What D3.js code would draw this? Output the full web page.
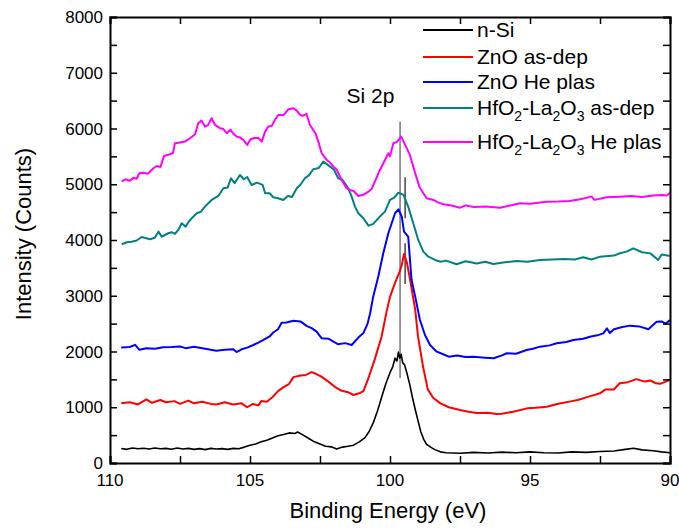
<!DOCTYPE html>
<html>
<head>
<meta charset="utf-8">
<script src="https://cdn.jsdelivr.net/npm/d3@7"></script>
<style>
  body { margin: 0; background: #fff; }
  text { font-family: Arial, "Liberation Sans", sans-serif; }
</style>
</head>
<body>
<script>
// XPS Si 2p spectra: [binding energy (eV), counts]
const nSi = [[109.6,260],[109.4,245],[109.2,270],[109.0,255],[108.8,265],[108.6,250],[108.4,270],[108.2,255],[108.0,262],[107.8,248],[107.6,268],[107.4,252],[107.2,262],[107.0,245],[106.8,258],[106.6,240],[106.4,262],[106.2,250],[106.0,258],[105.8,245],[105.6,262],[105.4,255],[105.2,285],[105.0,320],[104.8,340],[104.6,380],[104.4,410],[104.2,450],[104.0,490],[103.8,510],[103.6,540],[103.4,530],[103.3,555],[103.1,500],[102.9,440],[102.7,380],[102.5,340],[102.3,300],[102.1,290],[101.9,250],[101.7,285],[101.5,300],[101.3,320],[101.1,380],[100.9,450],[100.75,560],[100.6,720],[100.45,930],[100.3,1180],[100.15,1420],[100.0,1620],[99.9,1730],[99.82,1880],[99.75,1830],[99.7,1990],[99.65,1880],[99.6,1950],[99.55,1800],[99.48,1760],[99.4,1620],[99.3,1420],[99.2,1180],[99.1,960],[99.0,760],[98.9,560],[98.8,430],[98.7,340],[98.55,285],[98.4,240],[98.2,200],[98.0,185],[97.5,175],[97.0,190],[96.5,180],[96.0,195],[95.5,185],[95.0,200],[94.5,185],[94.0,180],[93.5,200],[93.0,190],[92.5,205],[92.0,215],[91.6,245],[91.3,265],[91.0,235],[90.6,220],[90.3,200],[90.0,185]];

const znoAsDep = [[109.6,1070],[109.3,1090],[109.0,1050],[108.7,1140],[108.5,1080],[108.2,1130],[108.0,1090],[107.7,1110],[107.5,1060],[107.2,1120],[107.0,1070],[106.7,1100],[106.4,1060],[106.2,1050],[105.9,1090],[105.6,1050],[105.3,1070],[105.1,1000],[104.9,1060],[104.7,1030],[104.6,1110],[104.4,1100],[104.2,1180],[104.0,1290],[103.8,1360],[103.6,1420],[103.45,1540],[103.2,1570],[103.0,1580],[102.8,1630],[102.65,1600],[102.45,1550],[102.2,1460],[101.95,1360],[101.75,1300],[101.5,1270],[101.3,1220],[101.1,1250],[100.95,1290],[100.8,1480],[100.55,1850],[100.3,2270],[100.12,2720],[100.0,2980],[99.82,3230],[99.68,3400],[99.58,3550],[99.5,3750],[99.4,3600],[99.3,3340],[99.1,2750],[99.0,2270],[98.82,1730],[98.65,1320],[98.46,1170],[98.2,1070],[97.9,1000],[97.5,950],[97.2,920],[96.9,895],[96.5,900],[96.2,880],[96.0,885],[95.6,920],[95.1,980],[94.8,990],[94.4,1010],[94.1,1050],[93.9,1070],[93.5,1110],[93.3,1130],[92.9,1190],[92.5,1250],[92.3,1320],[92.0,1320],[91.8,1430],[91.5,1450],[91.2,1505],[90.9,1460],[90.7,1480],[90.5,1430],[90.35,1420],[90.0,1490]];

const znoHePlas = [[109.6,2070],[109.3,2080],[109.1,2120],[108.95,2030],[108.7,2060],[108.4,2050],[108.1,2075],[107.8,2080],[107.5,2090],[107.3,2060],[107.0,2085],[106.7,2060],[106.4,2030],[106.2,2015],[105.9,2030],[105.6,2040],[105.48,1990],[105.3,2040],[105.1,2070],[104.88,2117],[104.7,2160],[104.52,2207],[104.3,2270],[104.17,2340],[104.0,2400],[103.87,2517],[103.7,2520],[103.45,2553],[103.2,2540],[102.98,2460],[102.8,2420],[102.62,2356],[102.44,2237],[102.2,2230],[101.85,2129],[101.6,2150],[101.37,2117],[101.13,2250],[100.95,2330],[100.8,2500],[100.71,2686],[100.6,2984],[100.42,3342],[100.24,3762],[100.06,4121],[99.94,4300],[99.82,4480],[99.7,4551],[99.58,4420],[99.5,4150],[99.35,4060],[99.23,3283],[99.1,2984],[98.93,2565],[98.75,2296],[98.57,2117],[98.33,1997],[98.1,1950],[97.9,1907],[97.6,1930],[97.3,1900],[97.03,1907],[96.6,1890],[96.3,1878],[96.0,1930],[95.83,1968],[95.5,1960],[95.12,2027],[94.9,2050],[94.64,2087],[94.3,2110],[94.05,2147],[93.7,2170],[93.45,2207],[93.1,2230],[92.86,2266],[92.6,2290],[92.38,2326],[92.25,2414],[92.15,2330],[92.0,2400],[91.7,2440],[91.43,2464],[91.1,2450],[90.77,2398],[90.48,2535],[90.3,2540],[90.15,2500],[90.0,2565]];

const hfAsDep = [[109.58,3923],[109.4,3960],[109.23,3970],[109.05,3990],[108.87,4054],[108.57,4013],[108.4,4040],[108.27,4150],[108.15,4060],[107.92,4121],[107.8,4140],[107.68,4110],[107.56,4180],[107.44,4300],[107.3,4240],[107.2,4320],[107.08,4390],[106.9,4480],[106.75,4510],[106.61,4599],[106.37,4718],[106.13,4790],[105.95,4928],[105.8,4940],[105.68,5107],[105.55,5020],[105.36,5167],[105.22,5090],[105.1,5130],[104.94,4987],[104.75,5030],[104.55,4990],[104.46,4839],[104.3,4840],[104.17,4767],[104.0,4750],[103.81,4718],[103.65,4790],[103.5,4770],[103.33,4928],[103.2,4990],[103.04,5107],[102.9,5160],[102.74,5269],[102.55,5290],[102.38,5405],[102.14,5316],[102.0,5260],[101.85,5107],[101.7,5080],[101.49,4928],[101.37,4778],[101.25,4599],[101.13,4480],[100.95,4390],[100.77,4257],[100.6,4290],[100.36,4420],[100.18,4509],[100.0,4718],[99.85,4760],[99.7,4849],[99.52,4808],[99.35,4599],[99.17,4300],[98.99,4001],[98.81,3791],[98.63,3701],[98.39,3642],[98.2,3611],[98.0,3630],[97.62,3565],[97.3,3620],[96.9,3580],[96.6,3610],[96.31,3570],[95.9,3600],[95.48,3624],[95.1,3610],[94.64,3642],[94.2,3650],[93.8,3660],[93.4,3650],[93.1,3690],[92.8,3650],[92.5,3701],[92.0,3720],[91.79,3762],[91.55,3791],[91.31,3851],[91.0,3780],[90.7,3760],[90.42,3642],[90.3,3740],[90.0,3714]];

const hfHePlas = [[109.58,5046],[109.45,5090],[109.29,5064],[109.17,5118],[109.05,5100],[108.95,5197],[108.81,5208],[108.65,5190],[108.45,5287],[108.33,5328],[108.2,5310],[108.07,5508],[107.86,5538],[107.75,5560],[107.68,5735],[107.5,5750],[107.32,5765],[107.14,5825],[106.96,5897],[106.85,6094],[106.73,6141],[106.61,6034],[106.5,6060],[106.37,6184],[106.25,6064],[106.07,6004],[105.95,5990],[105.83,5915],[105.7,5980],[105.6,5910],[105.48,5855],[105.36,5840],[105.24,5795],[105.1,5705],[104.98,5807],[104.85,5830],[104.7,5830],[104.58,5765],[104.46,5944],[104.35,6034],[104.22,6050],[104.11,6153],[103.99,6243],[103.8,6240],[103.63,6345],[103.45,6363],[103.33,6320],[103.21,6243],[103.1,6230],[102.98,6261],[102.86,6064],[102.74,5974],[102.65,5900],[102.56,5765],[102.44,5556],[102.26,5436],[102.14,5390],[102.02,5316],[101.9,5260],[101.73,5077],[101.55,4928],[101.43,4898],[101.3,4880],[101.13,4790],[100.95,4810],[100.77,4867],[100.65,4920],[100.54,5046],[100.36,5256],[100.18,5436],[100.06,5556],[100.0,5500],[99.88,5735],[99.75,5760],[99.6,5855],[99.46,5705],[99.29,5526],[99.1,5197],[98.95,4957],[98.81,4838],[98.69,4749],[98.45,4718],[98.3,4680],[98.1,4640],[97.8,4620],[97.5,4580],[97.3,4620],[97.0,4590],[96.6,4600],[96.07,4580],[95.7,4620],[95.36,4659],[95.0,4650],[94.7,4670],[94.4,4688],[94.0,4690],[93.6,4700],[93.21,4730],[92.8,4778],[92.7,4720],[92.26,4767],[91.79,4778],[91.4,4790],[91.0,4770],[90.6,4800],[90.3,4808],[90.1,4800],[90.0,4849]];

// legend labels and colours
const seriesNames = ["n-Si", "ZnO as-dep", "ZnO He plas", "HfO2-La2O3 as-dep", "HfO2-La2O3 He plas"];
const seriesColors = ["#000000", "#ff0000", "#0000ff", "#008080", "#ff00ff"];
const seriesData = [nSi, znoAsDep, znoHePlas, hfAsDep, hfHePlas];

// peak position markers: [energy, from count, to count]
const peakMarkers = [[99.64, 1525, 6127], [99.46, 4390, 5125], [99.46, 3211, 3941]];

const xTicks = [110, 105, 100, 95, 90];
const yTicks = [0, 1000, 2000, 3000, 4000, 5000, 6000, 7000, 8000];

const width = 679;
const height = 529;
const margin = {top: 17, right: 9, bottom: 66, left: 110};

const svg = d3.select("body").append("svg")
  .attr("width", width)
  .attr("height", height);

const x = d3.scaleLinear()
  .domain([110, 90])
  .range([margin.left, width - margin.right]);

const y = d3.scaleLinear()
  .domain([0, 8000])
  .range([height - margin.bottom, margin.top]);

const line = d3.line()
  .x(d => x(d[0]))
  .y(d => y(d[1]));

const plot = svg.append("g");

// peak markers (drawn under the curves)
plot.selectAll("line.marker")
  .data(peakMarkers)
  .join("line")
  .attr("class", "marker")
  .attr("x1", d => x(d[0])).attr("x2", d => x(d[0]))
  .attr("y1", d => y(d[1])).attr("y2", d => y(d[2]))
  .attr("stroke", (d, i) => i === 0 ? "#777" : "#444")
  .attr("stroke-width", 1.5);

seriesData.forEach((data, i) => {
  plot.append("path")
    .attr("d", line(data))
    .attr("fill", "none")
    .attr("stroke", seriesColors[i])
    .attr("stroke-width", i === 0 ? 1.6 : 2)
    .attr("stroke-linejoin", "round");
});

// axes, ticks pointing inward on all four sides
const xMinor = d3.range(90, 110.1, 2.5);
const yMinor = d3.range(0, 8001, 500);

const axBottom = svg.append("g")
  .attr("transform", `translate(0,${y(0)})`)
  .call(d3.axisBottom(x).tickValues(xMinor).tickSize(-7).tickFormat(""));
const axTop = svg.append("g")
  .attr("transform", `translate(0,${y(8000)})`)
  .call(d3.axisTop(x).tickValues(xMinor).tickSize(-7).tickFormat(""));
const axLeft = svg.append("g")
  .attr("transform", `translate(${x(110)},0)`)
  .call(d3.axisLeft(y).tickValues(yMinor).tickSize(-7).tickFormat(""));
const axRight = svg.append("g")
  .attr("transform", `translate(${x(90)},0)`)
  .call(d3.axisRight(y).tickValues(yMinor).tickSize(-7).tickFormat(""));

[axBottom, axTop, axLeft, axRight].forEach(g => {
  g.select(".domain").attr("stroke", "#000").attr("stroke-width", 2);
  g.selectAll(".tick line").attr("stroke", "#000").attr("stroke-width", 1.5);
});

// tick labels
svg.append("g").selectAll("text")
  .data(xTicks)
  .join("text")
  .attr("x", d => x(d))
  .attr("y", y(0) + 23)
  .attr("text-anchor", "middle")
  .attr("font-size", 17)
  .text(d => d);

svg.append("g").selectAll("text")
  .data(yTicks)
  .join("text")
  .attr("x", x(110) - 7)
  .attr("y", d => y(d) + 6)
  .attr("text-anchor", "end")
  .attr("font-size", 17)
  .text(d => d);

// axis titles
svg.append("text")
  .attr("x", (x(110) + x(90)) / 2 - 2)
  .attr("y", height - 11)
  .attr("text-anchor", "middle")
  .attr("font-size", 22)
  .text("Binding Energy (eV)");

svg.append("text")
  .attr("transform", `translate(31,${(y(0) + y(8000)) / 2 - 6}) rotate(-90)`)
  .attr("text-anchor", "middle")
  .attr("font-size", 22)
  .text("Intensity (Counts)");

// annotation
svg.append("text")
  .attr("x", x(100.7))
  .attr("y", y(6460))
  .attr("text-anchor", "middle")
  .attr("font-size", 21)
  .text("Si 2p");

// legend
const legendRows = [30, 57, 82, 108, 142];
const legend = svg.append("g");
seriesNames.forEach((name, i) => {
  const row = legend.append("g").attr("transform", `translate(423,${legendRows[i]})`);
  row.append("line")
    .attr("x1", 0).attr("x2", 50)
    .attr("stroke", seriesColors[i])
    .attr("stroke-width", 2);
  const t = row.append("text")
    .attr("x", 54)
    .attr("y", 7)
    .attr("font-size", 21);
  // split chemical formulas so digits become subscripts
  let lowered = false;
  name.split(/(\d)/).filter(p => p).forEach(part => {
    if (/^\d$/.test(part)) {
      t.append("tspan").attr("dy", 6).attr("font-size", 14).text(part);
      lowered = true;
    } else {
      t.append("tspan").attr("dy", lowered ? -6 : 0).text(part);
      lowered = false;
    }
  });
});
</script>
</body>
</html>
